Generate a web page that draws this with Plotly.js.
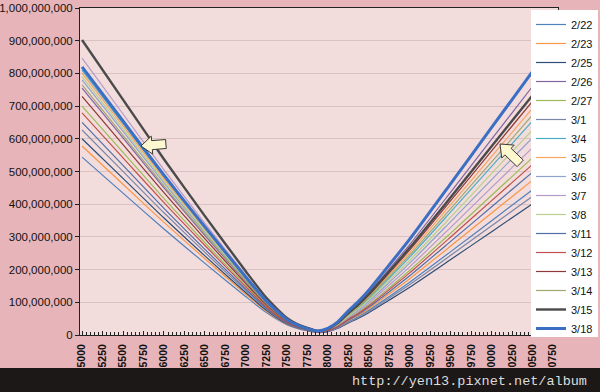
<!DOCTYPE html>
<html><head><meta charset="utf-8">
<script src="https://cdn.plot.ly/plotly-3.0.1.min.js"></script>
<style>html,body{margin:0;padding:0;background:#e7b5b9;} #chart{width:600px;height:392px;}</style>
</head><body><div id="chart"></div>
<script>
// index level (x) and portfolio value in millions (y)
const priceLevels = [5000,5500,6000,6500,7000,7250,7500,7625,7750,7875,8000,8125,8250,8375,8500,8750,9000,9500,10000,10500,10750];
const v0222 = [544,434,324,219,117,68.7,31.4,20.3,12.9,7.6,11.3,22.7,40.6,56.7,75.6,118,161.5,255,349.5,444,491];
const v0223 = [578,461,344.5,233,124.5,72.9,33.4,21.6,13.8,8.1,12.1,24.2,43.3,60.4,80.6,126,172.3,272,372.8,473.6,524];
const v0225 = [600,479,357.6,241.8,129.2,75.7,34.6,22.4,14.3,7.6,10.3,20.5,36.8,51.2,68.3,106.8,146.1,230.7,316,401.5,444];
const v0226 = [755,602.5,450,304.3,162.6,95.3,43.6,28.2,18,11.7,19.4,38.9,69.6,97.1,129.5,202.3,276.7,437,598.8,760.7,841.5];
const v0227 = [700,558.6,417.2,282.1,150.8,88.3,40.4,26.1,16.7,9.5,13.9,27.7,49.7,69.2,92.3,144.3,197.4,311.7,427.2,542.6,600.3];
const v0301 = [627,500.3,373.7,252.7,135.1,79.1,36.2,23.4,14.9,8,10.8,21.7,38.8,54.1,72.2,112.8,154.3,243.7,334,424.2,469.3];
const v0304 = [810,646.4,482.8,326.4,174.5,102.2,46.7,30.2,19.3,11.2,16.7,33.5,60,83.6,111.5,174.2,238.3,376.4,515.7,655.1,724.8];
const v0305 = [801,639.2,477.4,322.8,172.5,101.1,46.2,29.9,19.1,11.5,17.7,35.4,63.5,88.5,118,184.5,252.3,398.5,546,693.6,767.3];
const v0306 = [780,622.4,464.9,314.3,168,98.4,45,29.1,18.6,10.6,15.4,30.8,55.3,77.1,102.8,160.6,219.6,346.9,475.3,603.8,668];
const v0307 = [847,675.9,504.8,341.3,182.4,106.9,48.9,31.6,20.2,10.8,14.6,29.3,52.5,73.1,97.5,152.5,208.5,329.3,451.3,573.2,634.2];
const v0308 = [790,630.4,470.8,318.4,170.2,99.7,45.6,29.5,18.8,10.9,16,32.1,57.4,80.1,106.8,166.9,228.3,360.5,494,627.5,694.2];
const v0311 = [650,518.7,387.4,262,140,82,37.5,24.2,15.5,8.8,12.7,25.5,45.6,63.6,84.8,132.5,181.2,286.2,392.2,498.2,551.2];
const v0312 = [679,541.8,404.7,273.6,146.3,85.7,39.2,25.3,16.2,9.2,13.3,26.7,47.8,66.6,88.8,138.8,189.9,299.8,410.9,521.9,577.4];
const v0313 = [730,582.5,435.1,294.2,157.2,92.1,42.1,27.2,17.4,11.1,18.3,36.5,65.5,91.3,121.7,190.2,260.2,410.9,563.1,715.3,791.3];
const v0314 = [765,610.5,455.9,308.3,164.8,96.5,44.1,28.5,18.2,11,17.2,34.4,61.6,85.9,114.5,179,244.8,386.6,529.7,672.9,744.4];
const v0315 = [902,719.8,537.6,363.5,194.3,113.8,52,33.6,21.5,12.5,18.7,37.4,67.1,93.5,124.7,195,266.7,421.1,577.1,733,811];
const v0318 = [820,654.4,488.7,330.5,176.6,103.5,47.3,30.6,19.5,12.5,20.6,41.2,73.8,102.9,137.2,214.4,293.2,463.1,634.6,806.1,891.8];

const seriesNames = ['2/22','2/23','2/25','2/26','2/27','3/1','3/4','3/5','3/6','3/7','3/8','3/11','3/12','3/13','3/14','3/15','3/18'];
const seriesValues = [v0222,v0223,v0225,v0226,v0227,v0301,v0304,v0305,v0306,v0307,v0308,v0311,v0312,v0313,v0314,v0315,v0318];

const yTickValues = [0,100,200,300,400,500,600,700,800,900,1000];
const yTickLabels = ['0','100,000,000','200,000,000','300,000,000','400,000,000','500,000,000','600,000,000','700,000,000','800,000,000','900,000,000','1,000,000,000'];
const watermark = 'http://yen13.pixnet.net/album';

// styles
const seriesColors = ['#4F81BD','#F79646','#2C4D75','#8064A2','#9BBB59','#7A86A8','#4BACC6','#F5A462','#8FA3CC','#B39BC9','#B9CF8A','#4F6EA8','#C0504D','#8C3836','#A0A870','#4A4A4A','#3A6FC4'];
const seriesWidths = [1.2,1.2,1.2,1.2,1.2,1.2,1.2,1.2,1.2,1.2,1.2,1.2,1.2,1.2,1.2,2.4,3];

const traces = seriesNames.map((n,i)=>({
  type:'scatter', mode:'lines', name:n, x:priceLevels, y:seriesValues[i],
  line:{color:seriesColors[i], width:seriesWidths[i], shape:'spline', smoothing:0.6}
}));

// plot area in pixels: left 80, right 558, top 8, bottom 335
const PL=80, PR=558, PT=8, PB=335;
const toPX = px => (px-PL)/(PR-PL);
const toPY = py => (PB-py)/(PB-PT);

function arrowPath(tx,ty,dx,dy,len,headLen,headHalf,shaftHalf){
  const m=Math.hypot(dx,dy); const ux=dx/m, uy=dy/m; const nx=-uy, ny=ux;
  const bx=tx-ux*headLen, by=ty-uy*headLen; const ex=tx-ux*len, ey=ty-uy*len;
  const pts=[[tx,ty],[bx+nx*headHalf,by+ny*headHalf],[bx+nx*shaftHalf,by+ny*shaftHalf],[ex+nx*shaftHalf,ey+ny*shaftHalf],
    [ex-nx*shaftHalf,ey-ny*shaftHalf],[bx-nx*shaftHalf,by-ny*shaftHalf],[bx-nx*headHalf,by-ny*headHalf]];
  return 'M'+pts.map(p=>toPX(p[0]).toFixed(4)+','+toPY(p[1]).toFixed(4)).join(' L')+' Z';
}

const shapes = [
  {type:'rect', xref:'paper', yref:'paper', x0:toPX(-5), x1:toPX(605), y0:toPY(368), y1:toPY(400), fillcolor:'#1c1818', line:{width:0}, layer:'above'},
  {type:'path', xref:'paper', yref:'paper', path:arrowPath(141,146,-1,0.08,25,11,9,4.5), fillcolor:'#fdf8cf', line:{color:'#3a3a3a', width:1}, layer:'above'},
  {type:'path', xref:'paper', yref:'paper', path:arrowPath(500,144,-0.72,-0.69,28,11,9,4.5), fillcolor:'#fdf8cf', line:{color:'#3a3a3a', width:1}, layer:'above'}
];

const layout = {
  width:600, height:392,
  margin:{l:PL, r:600-PR, t:PT, b:392-PB, pad:0, autoexpand:false},
  paper_bgcolor:'#e7b5b9', plot_bgcolor:'#f3dcdc',
  font:{family:'Liberation Sans, Arial, sans-serif', color:'#111'},
  showlegend:true,
  xaxis:{range:[4975,10810], tickmode:'linear', tick0:5000, dtick:250, tickformat:'d', tickangle:-90,
    tickfont:{family:'Liberation Sans, Arial, sans-serif', size:10.5, color:'#111', weight:'bold'},
    ticks:'inside', ticklen:4, tickcolor:'#222',
    minor:{dtick:50, ticks:'inside', ticklen:3, tickcolor:'#222', showgrid:false},
    showline:true, linecolor:'#222', linewidth:1, mirror:true, showgrid:false, zeroline:false, ticklabelstandoff:4},
  yaxis:{range:[0,1000], tickmode:'array', tickvals:yTickValues, ticktext:yTickLabels,
    ticks:'outside', ticklen:4, tickcolor:'#222', tickfont:{size:11.5, color:'#111'},
    showgrid:true, gridcolor:'#d8c2c2', gridwidth:1, showline:true, linecolor:'#222', linewidth:1, mirror:true, zeroline:false},
  legend:{x:toPX(531), xanchor:'left', y:toPY(10), yanchor:'top', bgcolor:'#ffffff', borderwidth:0,
    font:{size:11, color:'#111'}, tracegroupgap:0},
  shapes:shapes,
  annotations:[{xref:'paper', yref:'paper', x:toPX(589), y:toPY(381), xanchor:'right', yanchor:'middle', showarrow:false,
    text:watermark, font:{family:'Liberation Mono, Courier New, monospace', size:13.5, color:'#dcdcdc'}}]
};

Plotly.newPlot('chart', traces, layout, {staticPlot:true, displayModeBar:false});
</script></body></html>
